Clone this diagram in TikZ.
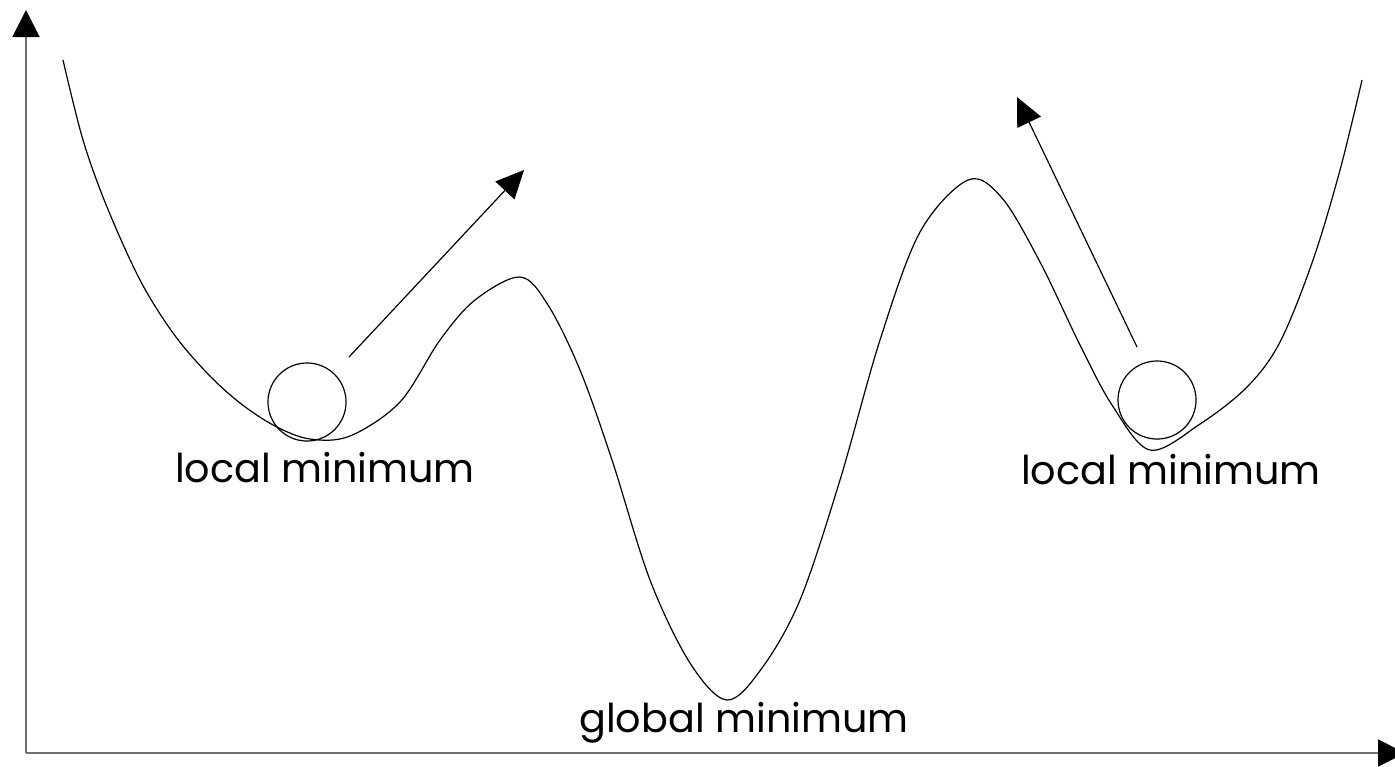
\documentclass[tikz,border=0pt]{standalone}
\usepackage{fontspec}
\setmainfont{Poppins}
\usetikzlibrary{arrows.meta}
\definecolor{axisgray}{HTML}{6E6E6E}
\tikzset{
  axisline/.style={draw=axisgray, line width=0.02cm, -{Triangle[length=0.27cm,width=0.27cm,color=black]}},
  curveline/.style={draw=black, line width=0.012cm},
  ball/.style={circle, draw=black, line width=0.012cm, minimum size=0.78cm, inner sep=0pt},
  pusharrow/.style={draw=black, line width=0.012cm, -{Triangle[length=0.28cm,width=0.26cm]}},
  lbl/.style={font=\fontsize{11.3}{13}\selectfont, inner sep=0pt}
}
\begin{document}
\begin{tikzpicture}[x=0.01cm, y=-0.01cm]
\useasboundingbox (0,0) rectangle (1395,766);
\coordinate (O) at (26,753);
\coordinate (ytip) at (26,10);
\coordinate (xtip) at (1405,753);
\draw[axisline] (O) -- (ytip);
\draw[axisline] (O) -- (xtip);
\draw[curveline] plot[smooth, tension=0.55] coordinates {
 (63,60) (83,140) (107,207) (140,280) (173,333) (207,373) (240,403) (275,426) (310,439) (350,436) (400,402)
 (440,340) (475,300) (520,277) (548,305) (580,370) (612,460) (650,580) (690,663) (727,700)
 (762,668) (800,600) (840,480) (880,340) (920,232) (968,180) (1002,198) (1040,262)
 (1080,345) (1112,405) (1150,450) (1200,424) (1247,387) (1280,342)
 (1313,260) (1340,170) (1362,80)};
\node[ball] (b1) at (307,402) {};
\node[ball] (b2) at (1157,400) {};
\coordinate (a1s) at (349,357);
\coordinate (a1e) at (524,170);
\coordinate (a2s) at (1137,347);
\coordinate (a2e) at (1017,97);
\draw[pusharrow] (a1s) -- (a1e);
\draw[pusharrow] (a2s) -- (a2e);
\node[lbl] (l1) at (325,468) {local minimum};
\node[lbl] (l2) at (1171,470) {local minimum};
\node[lbl] (l3) at (744,723) {global minimum};
\end{tikzpicture}
\end{document}
